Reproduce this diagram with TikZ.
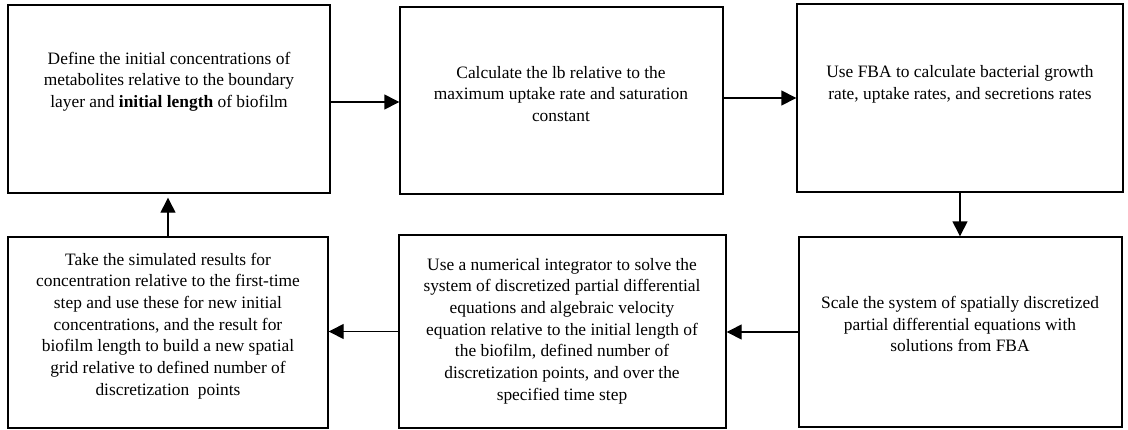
\documentclass[tikz,border=0pt]{standalone}
\usepackage{fontspec}
\setmainfont{Liberation Serif}
\usetikzlibrary{arrows.meta}
\begin{document}
\begin{tikzpicture}[x=1pt,y=-1pt,
  stepbox/.style={draw=black,line width=1.4pt,rectangle,inner sep=0pt},
  boxtext/.style={align=center,inner sep=0pt,font=\fontsize{17.4}{21.7}\selectfont},
  flow/.style={draw=black,line width=1.4pt,-{Triangle[length=15pt,width=15pt]}}]
\useasboundingbox (0,0) rectangle (1128,429);
\fill[white] (0,0) rectangle (1128,429);
% boxes
\node[stepbox,minimum width=322pt,minimum height=188pt] (b1) at (169,99) {};
\node[stepbox,minimum width=323pt,minimum height=187pt] (b2) at (561.5,100.5) {};
\node[stepbox,minimum width=326pt,minimum height=188pt] (b3) at (960,98) {};
\node[stepbox,minimum width=323pt,minimum height=190pt] (b4) at (960.5,332) {};
\node[stepbox,minimum width=327pt,minimum height=193pt] (b5) at (562.5,331.5) {};
\node[stepbox,minimum width=320pt,minimum height=191pt] (b6) at (168,332.5) {};
% texts
\node[boxtext] (t1) at (169,81.5) {Define the initial concentrations of\\metabolites relative to the boundary\\layer and \textbf{initial length} of biofilm};
\node[boxtext] (t2) at (561,94) {Calculate the lb relative to the\\maximum uptake rate and saturation\\constant};
\node[boxtext] (t3) at (960,84) {Use FBA to calculate bacterial growth\\rate, uptake rates, and secretions rates};
\node[boxtext] (t4) at (960,324) {Scale the system of spatially discretized\\partial differential equations with\\solutions from FBA};
\node[boxtext] (t5) at (562,331) {Use a numerical integrator to solve the\\system of discretized partial differential\\equations and algebraic velocity\\equation relative to the initial length of\\the biofilm, defined number of\\discretization points, and over the\\specified time step};
\node[boxtext] (t6) at (168,326) {Take the simulated results for\\concentration relative to the first-time\\step and use these for new initial\\concentrations, and the result for\\biofilm length to build a new spatial\\grid relative to defined number of\\discretization\ \ points};
% connectors
\draw[flow] ([yshift=-3pt]b1.east) -- ([yshift=-3pt]b1.east -| b2.west);
\draw[flow] ([yshift=2.5pt]b2.east) -- ([yshift=2.5pt]b2.east -| b3.west);
\draw[flow] (b3.south) -- (b4.north -| b3.south);
\draw[flow] (b4.west) -- (b5.east |- b4.west);
\draw[flow] (b5.west) -- (b6.east |- b5.west);
\draw[flow,shorten >=4pt] (b6.north) -- (b1.south -| b6.north);
\end{tikzpicture}
\end{document}
